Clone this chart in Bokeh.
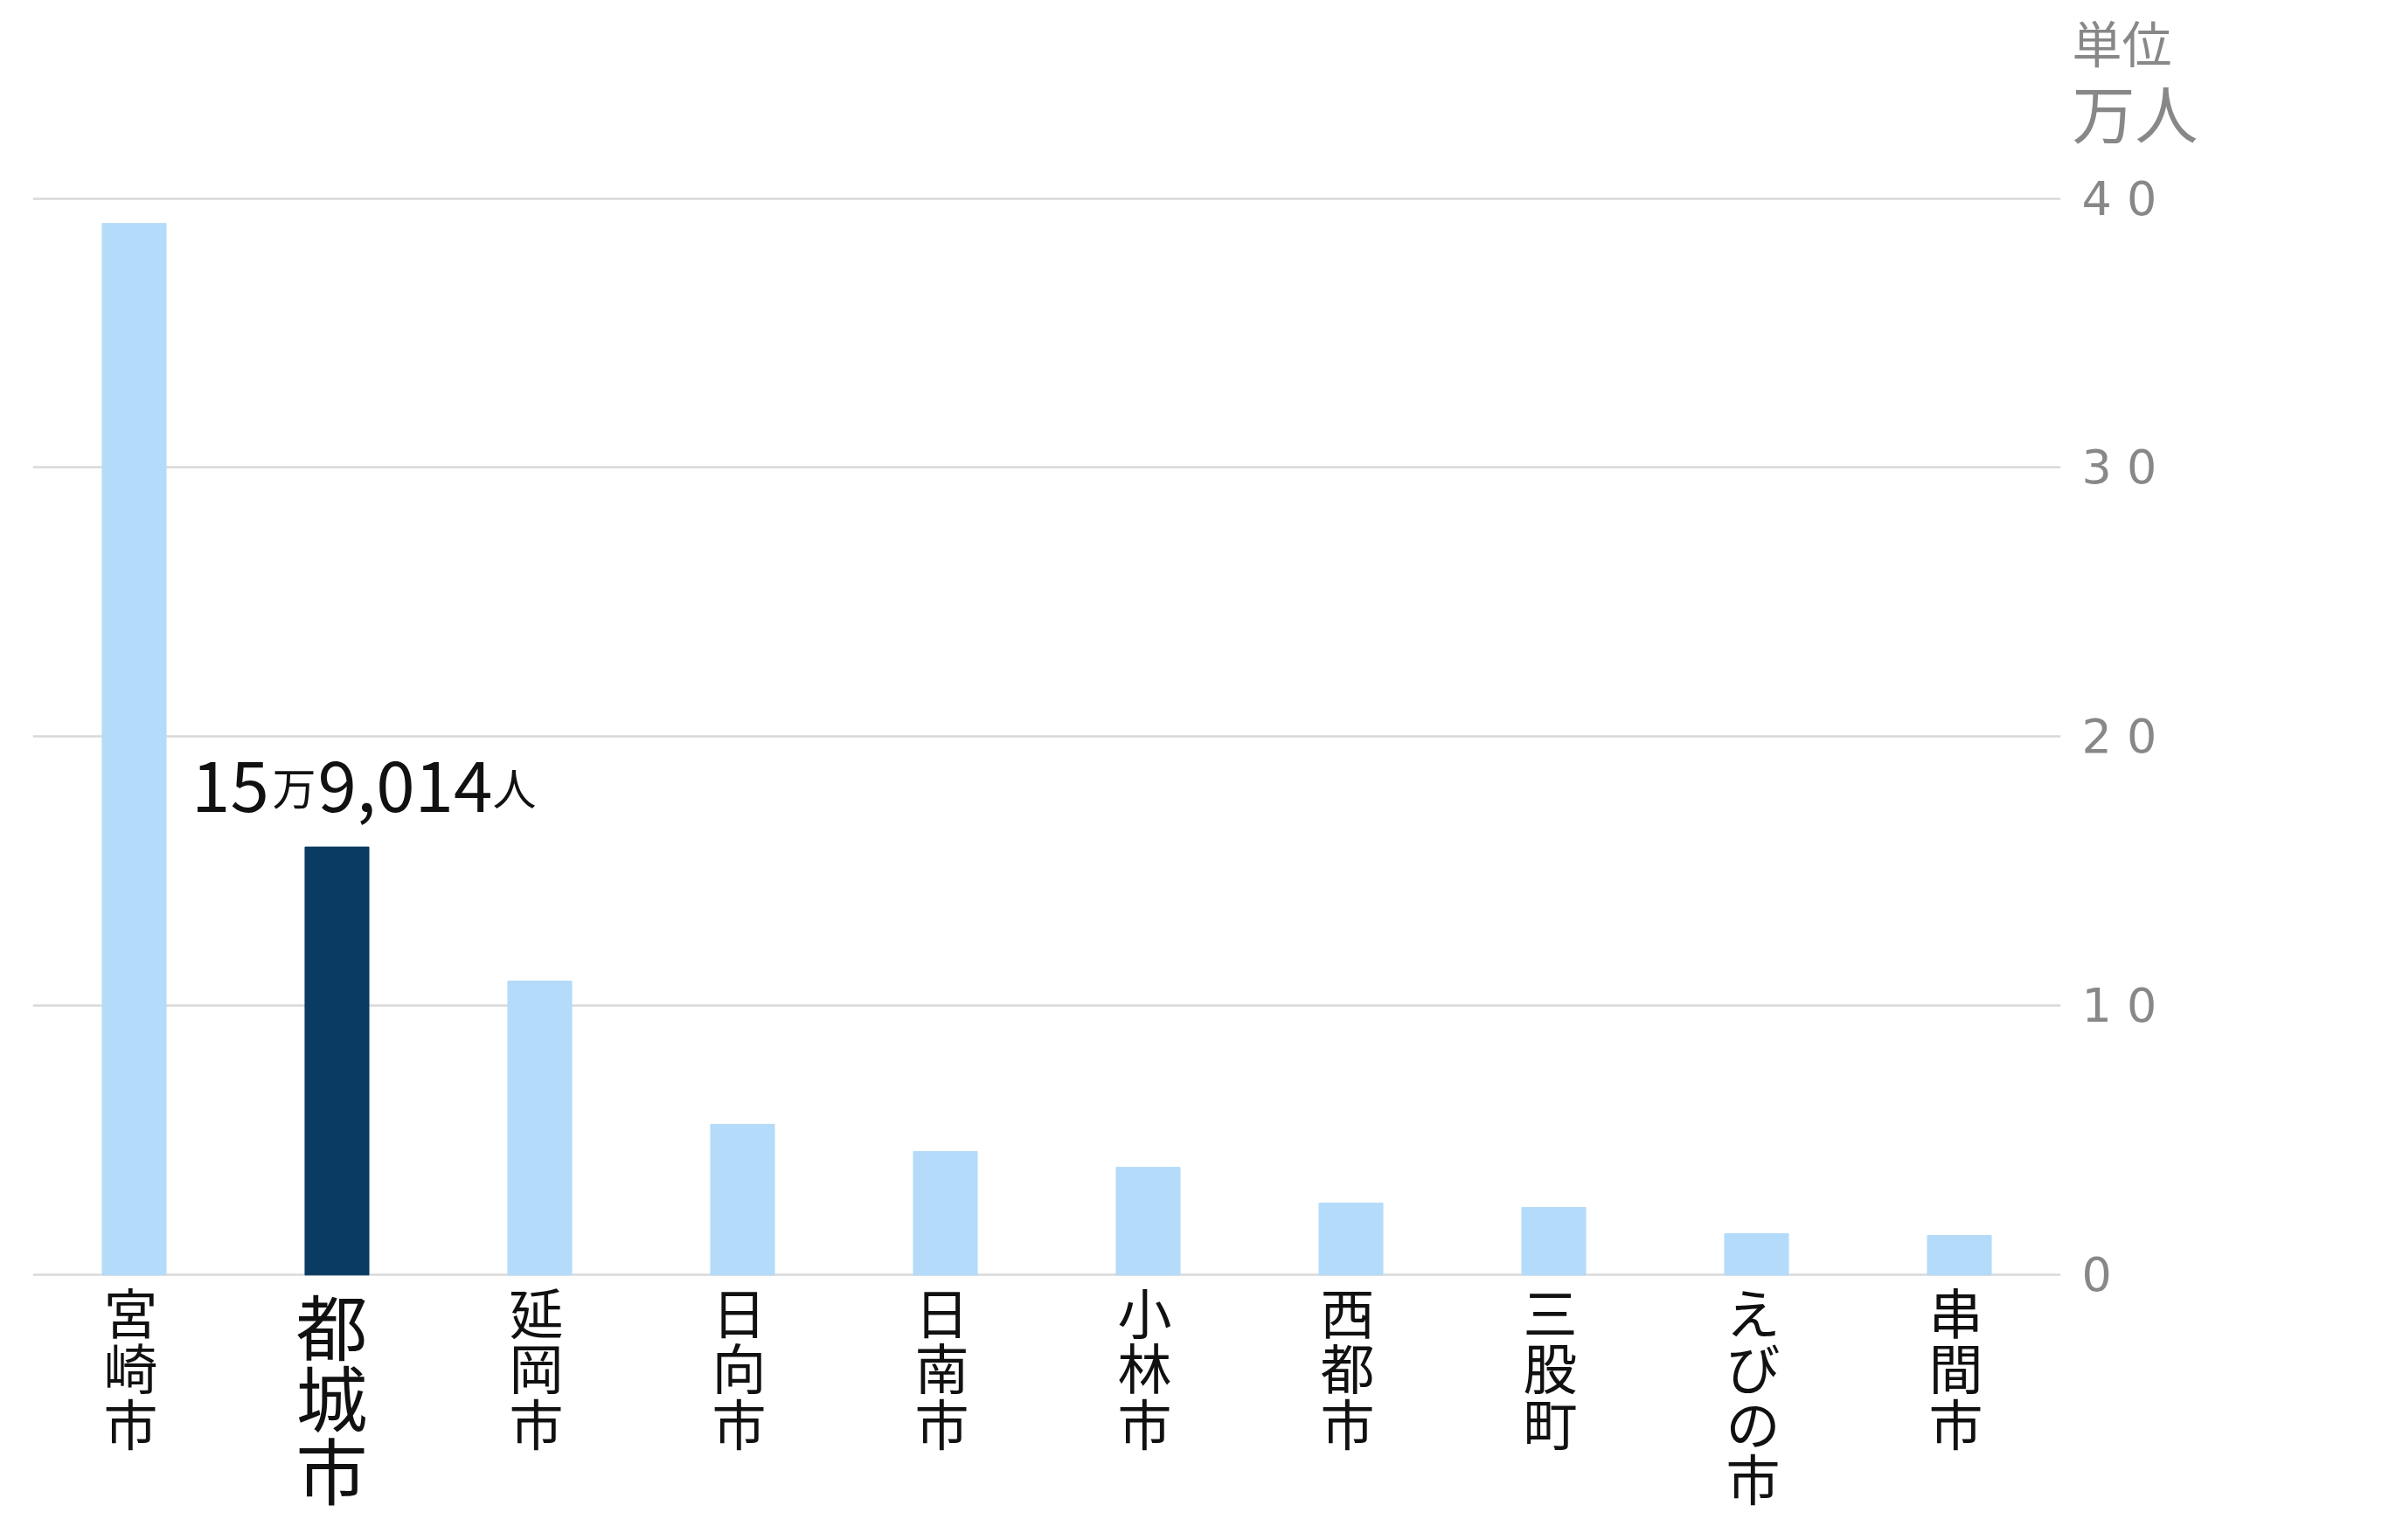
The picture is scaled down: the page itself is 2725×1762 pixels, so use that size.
from bokeh.plotting import figure
from bokeh.models import Range1d, FactorRange, FixedTicker, ColumnDataSource, Title
from bokeh.core.properties import value
from bokeh.embed import file_html
from bokeh.resources import INLINE

# ---- data ----
cities = ["宮崎市", "都城市", "延岡市", "日向市", "日南市",
          "小林市", "西都市", "三股町", "えびの市", "串間市"]
population_man = [39.07, 15.9014, 10.92, 5.60, 4.59, 4.00, 2.67, 2.51, 1.54, 1.47]
highlight_city = "都城市"
highlight_population = 159014
y_ticks = [0, 10, 20, 30, 40]
y_tick_labels = ["0", "1 0", "2 0", "3 0", "4 0"]
unit_top = "単位"
unit_bottom = "万人"

# ---- styles ----
FONT = "Noto Sans CJK JP"
LIGHT = "#b4dbf9"
DARK = "#0a3b62"
GRAY = "#888888"
TEXT = "#111111"

colors = [DARK if c == highlight_city else LIGHT for c in cities]
src = ColumnDataSource(dict(city=cities, pop=population_man, color=colors))

norm_idx = [i for i, c in enumerate(cities) if c != highlight_city]
hi_idx = [i for i, c in enumerate(cities) if c == highlight_city]
src_norm = ColumnDataSource(dict(city=[cities[i] for i in norm_idx],
                                 label=["\n".join(cities[i]) for i in norm_idx]))
src_hi = ColumnDataSource(dict(city=[cities[i] for i in hi_idx],
                               label=["\n".join(cities[i]) for i in hi_idx]))

hv = population_man[cities.index(highlight_city)]
man = highlight_population // 10000
rest = highlight_population % 10000
pieces = [str(man), "万", f"{rest:,}", "人"]
src_ann = ColumnDataSource(dict(
    x=[highlight_city] * 4, y=[hv] * 4, text=pieces,
    size=["80px", "50px", "80px", "50px"],
    xoff=[-122, -49, 78, 203],
))

W, H = 2720, 1760
TOP = 200
scale = (1458.3 - 226.5) / 40.0
y_top = 40 + (226.5 - TOP) / scale
y_bot = -(H - 1458.3) / scale

p = figure(width=W, height=H, output_backend="svg", toolbar_location=None,
           x_range=FactorRange(factors=cities, range_padding=0),
           y_range=Range1d(y_bot, y_top),
           x_axis_location=None, y_axis_location="right",
           min_border_left=37, min_border_right=W - 2357,
           min_border_top=TOP, min_border_bottom=0)
p.outline_line_color = None
p.background_fill_color = "white"
p.border_fill_color = "white"

ax = p.yaxis[0]
ax.ticker = FixedTicker(ticks=y_ticks)
ax.major_label_overrides = {t: l for t, l in zip(y_ticks, y_tick_labels)}
ax.axis_line_color = None
ax.major_tick_line_color = None
ax.minor_tick_line_color = None
ax.major_label_standoff = 18
ax.major_label_text_font = "DejaVu Sans"
ax.major_label_text_font_size = "54px"
ax.major_label_text_color = GRAY

p.ygrid.grid_line_color = "#d9d9d9"
p.ygrid.grid_line_width = 2.5
p.ygrid.ticker = FixedTicker(ticks=y_ticks)
p.xgrid.visible = False

p.vbar(x="city", top="pop", width=0.315, color="color", source=src)

p.text(x="city", y=0, text="label", source=src_norm,
       text_font=value(FONT), text_font_size="62px", text_color=TEXT,
       text_align="center", text_baseline="top", text_line_height=0.705,
       x_offset=-4, y_offset=-4)
p.text(x="city", y=0, text="label", source=src_hi,
       text_font=value(FONT), text_font_size="82px", text_color=TEXT,
       text_align="center", text_baseline="top", text_line_height=0.693,
       x_offset=-6, y_offset=-4)

p.text(x="x", y="y", text="text", source=src_ann,
       text_font=value(FONT), text_font_size="size", text_color=TEXT,
       text_align="center", text_baseline="alphabetic",
       x_offset="xoff", y_offset=-70)

p.add_layout(Title(text=unit_bottom, align="left", offset=2333, standoff=44,
                   text_font=FONT, text_font_size="72px", text_font_style="normal",
                   text_color=GRAY), "above")
p.add_layout(Title(text=unit_top, align="left", offset=2333, standoff=-76,
                   text_font=FONT, text_font_size="57px", text_font_style="normal",
                   text_line_height=0.8, text_color=GRAY), "above")

open("out.html", "w").write(file_html(p, INLINE))
